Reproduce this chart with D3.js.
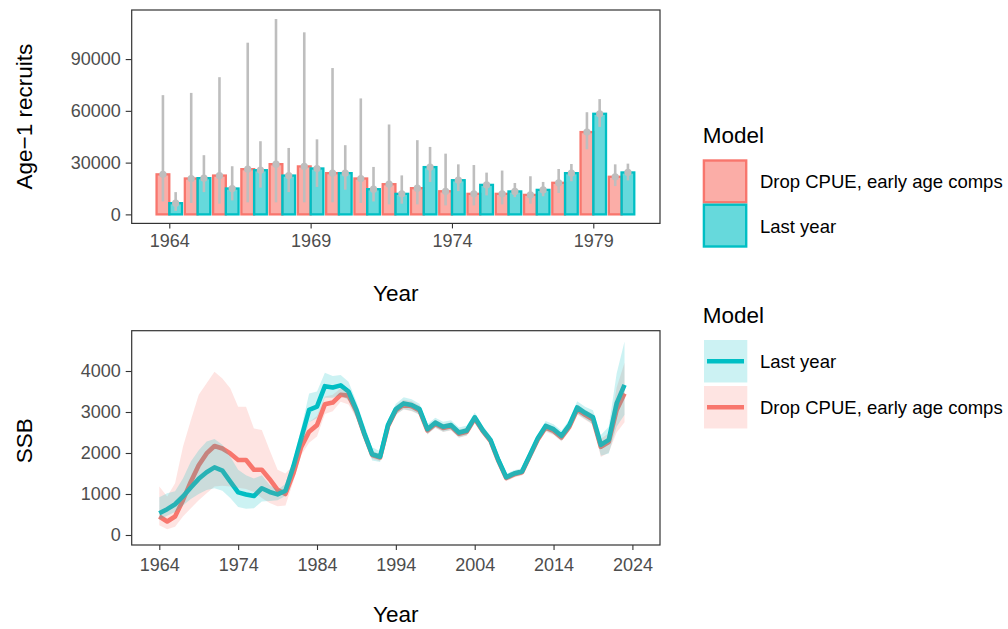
<!DOCTYPE html>
<html><head><meta charset="utf-8">
<script src="https://cdn.jsdelivr.net/npm/d3@7"></script>
<style>
body{margin:0;background:#fff}
svg{display:block}
text{font-family:"Liberation Sans",Arial,Helvetica,sans-serif}
</style>
</head><body>
<svg id="chart" width="1008" height="629"></svg>
<script>
// ---------------- DATA ----------------
const modelNames = ["Drop CPUE, early age comps", "Last year"];
const modelColors = ["#F8766D", "#00BFC4"];

const recYears = [1964,1965,1966,1967,1968,1969,1970,1971,1972,1973,1974,1975,1976,1977,1978,1979,1980];
const recDropEst   = [23200,20800,22500,26200,29100,27800,23900,20800,17500,15200,13400,11900,11900,11300,18300,47700,21800];
const recDropLo    = [7500,6600,6200,7000,7000,7000,7000,6600,5800,5800,5200,5200,5800,6200,12400,37700,16400];
const recDropHi    = [69100,70400,79500,99500,113200,105500,84800,67200,52100,43000,35200,28600,25400,22100,26300,59200,29000];
const recLastEst   = [6500,21000,15000,25600,22500,26600,23900,14600,11900,27400,19800,17100,13300,14200,23900,58300,24300];
const recLastLo    = [2000,12900,8100,15500,12900,15900,14300,7500,6200,18800,13500,11000,10000,10500,19200,50700,19700];
const recLastHi    = [12900,34300,27900,42400,38500,43500,40100,27500,22600,39100,29000,24200,18200,18800,29200,66800,29400];

const ssbYears = [1964,1965,1966,1967,1968,1969,1970,1971,1972,1973,1974,1975,1976,1977,1978,1979,1980,1981,1982,1983,1984,1985,1986,1987,1988,1989,1990,1991,1992,1993,1994,1995,1996,1997,1998,1999,2000,2001,2002,2003,2004,2005,2006,2007,2008,2009,2010,2011,2012,2013,2014,2015,2016,2017,2018,2019,2020,2021,2022,2023];
const ssbLast   = [530,630,750,940,1160,1370,1530,1650,1570,1300,1040,990,950,1140,1050,990,1080,1670,2360,3050,3130,3630,3600,3650,3500,3050,2480,1970,1910,2680,3070,3210,3170,3070,2580,2740,2640,2680,2500,2550,2870,2560,2320,1830,1410,1500,1550,1950,2360,2660,2580,2420,2680,3110,2980,2870,2200,2320,3210,3660];
const ssbLastHi = [920,1020,1070,1380,1790,2070,2280,2340,2200,1910,1590,1460,1380,1460,1220,1100,1250,1850,2600,3450,3500,3960,3880,3900,3740,3250,2680,2140,2040,2820,3200,3360,3310,3200,2700,2860,2760,2800,2620,2670,2990,2670,2420,1920,1490,1580,1630,2040,2460,2780,2700,2540,2810,3260,3130,3040,2440,2640,3940,4720];
const ssbLastLo = [380,470,560,720,880,1000,1100,1140,1080,900,680,640,650,820,830,850,950,1500,2130,2750,2850,3350,3350,3420,3280,2850,2300,1820,1780,2540,2940,3070,3030,2940,2460,2620,2520,2560,2380,2430,2750,2450,2220,1740,1330,1420,1470,1860,2260,2540,2460,2300,2550,2960,2830,2700,1930,1990,2640,2930];
const ssbDrop   = [450,330,450,850,1300,1700,1990,2170,2110,1990,1830,1830,1590,1590,1360,1100,1000,1500,2150,2520,2680,3190,3230,3420,3400,3020,2460,1950,1890,2650,3040,3180,3140,3040,2550,2710,2610,2650,2470,2520,2840,2540,2300,1810,1390,1480,1530,1930,2330,2620,2540,2380,2640,3060,2930,2820,2150,2270,3050,3450];
const ssbDropHi = [1180,940,1260,2150,2800,3420,3700,3980,3820,3580,3130,3130,2600,2560,2070,1590,1500,1700,2350,2750,2900,3380,3420,3580,3540,3150,2560,2040,1980,2760,3150,3300,3260,3150,2650,2810,2710,2750,2570,2620,2940,2630,2390,1890,1470,1560,1610,2010,2420,2720,2640,2480,2750,3180,3050,2950,2350,2480,3600,4200];
const ssbDropLo = [240,140,200,450,650,850,1020,1180,1200,1180,1150,1120,1050,900,780,700,720,1300,1950,2250,2400,2950,3020,3250,3180,2850,2360,1860,1800,2540,2930,3060,3020,2930,2450,2610,2510,2550,2370,2420,2740,2450,2210,1730,1310,1400,1450,1850,2240,2520,2440,2280,2530,2940,2810,2690,1900,2010,2500,2750];

const recYTicks = [0, 30000, 60000, 90000];
const recXTicks = [1964, 1969, 1974, 1979];
const ssbYTicks = [0, 1000, 2000, 3000, 4000];
const ssbXTicks = [1964, 1974, 1984, 1994, 2004, 2014, 2024];

// ---------------- LAYOUT ----------------
const svg = d3.select("#chart");
const P1 = {l:131.7, r:660, t:10, b:223.4};
const P2 = {l:131.7, r:660, t:330.7, b:545};
const tickCol = "#333333", labCol = "#4D4D4D";

const xTop = d3.scaleLinear().domain([1962.67, 1981.36]).range([P1.l, P1.r]);
const yTop = d3.scaleLinear().domain([-5225, 118440]).range([P1.b, P1.t]);
const xBot = d3.scaleLinear().domain([1960.5, 2027.5]).range([P2.l, P2.r]);
const yBot = d3.scaleLinear().domain([-244, 4983]).range([P2.b, P2.t]);

function styleAxis(g){
  g.select(".domain").remove();
  g.selectAll(".tick line").attr("stroke", tickCol).attr("stroke-width", 1.1);
  g.selectAll(".tick text").attr("fill", labCol).style("font-size","18px")
   .style("font-family",'"Liberation Sans",Arial,sans-serif');
}

// ---------------- TOP PANEL: recruits ----------------
const gTop = svg.append("g");
const recRows = recYears.map((y,i)=>({year:y,
  vals:[{m:0, est:recDropEst[i], lo:recDropLo[i], hi:recDropHi[i], a:-0.45, b:0},
        {m:1, est:recLastEst[i], lo:recLastLo[i], hi:recLastHi[i], a:0, b:0.45}]}));
recRows.forEach(r=>{
  r.vals.forEach(v=>{
    gTop.append("rect")
      .attr("x", xTop(r.year+v.a)).attr("width", xTop(r.year+v.b)-xTop(r.year+v.a))
      .attr("y", yTop(v.est)).attr("height", yTop(0)-yTop(v.est))
      .attr("fill", modelColors[v.m]).attr("fill-opacity", 0.6)
      .attr("stroke", modelColors[v.m]).attr("stroke-width", 2.3);
  });
});
recRows.forEach(r=>{
  r.vals.forEach(v=>{
    const cx = xTop(r.year + (v.a+v.b)/2);
    gTop.append("line").attr("x1",cx).attr("x2",cx)
      .attr("y1",yTop(v.lo)).attr("y2",yTop(v.hi))
      .attr("stroke","#BEBEBE").attr("stroke-width",2.6);
    gTop.append("circle").attr("cx",cx).attr("cy",yTop(v.est)).attr("r",3.6).attr("fill","#BEBEBE");
  });
});
gTop.append("rect").attr("x",P1.l).attr("y",P1.t).attr("width",P1.r-P1.l).attr("height",P1.b-P1.t)
  .attr("fill","none").attr("stroke",tickCol).attr("stroke-width",1.2);

svg.append("g").attr("transform",`translate(0,${P1.b})`)
  .call(d3.axisBottom(xTop).tickValues(recXTicks).tickFormat(d3.format("d")).tickSize(5).tickPadding(6))
  .call(styleAxis);
svg.append("g").attr("transform",`translate(${P1.l},0)`)
  .call(d3.axisLeft(yTop).tickValues(recYTicks).tickFormat(d3.format("d")).tickSize(6).tickPadding(5))
  .call(styleAxis);

svg.append("text").attr("x",(P1.l+P1.r)/2).attr("y",301).attr("text-anchor","middle")
  .style("font-size","22.5px").attr("fill","#000").text("Year");
svg.append("text").attr("transform",`translate(31.5,${(P1.t+P1.b)/2}) rotate(-90)`).attr("text-anchor","middle")
  .style("font-size","22.5px").attr("fill","#000").text("Age\u22121 recruits");

// top legend
svg.append("text").attr("x",702.7).attr("y",143.3).style("font-size","22.5px").text("Model");
[0,1].forEach((m,i)=>{
  const y0 = 160.5 + i*44.2;
  svg.append("rect").attr("x",703.9).attr("y",y0).attr("width",42.3).attr("height",41.8)
    .attr("fill",modelColors[m]).attr("fill-opacity",0.6)
    .attr("stroke",modelColors[m]).attr("stroke-width",2.4);
  svg.append("text").attr("x",760).attr("y",y0+27.8).style("font-size","18.5px").attr("fill","#000")
    .text(modelNames[m]);
});

// ---------------- BOTTOM PANEL: SSB ----------------
svg.append("clipPath").attr("id","clip2").append("rect")
  .attr("x",P2.l).attr("y",P2.t).attr("width",P2.r-P2.l).attr("height",P2.b-P2.t);
const gBot = svg.append("g").attr("clip-path","url(#clip2)");

const seriesDrop = ssbYears.map((y,i)=>({year:y, v:ssbDrop[i], lo:ssbDropLo[i], hi:ssbDropHi[i]}));
const seriesLast = ssbYears.map((y,i)=>({year:y, v:ssbLast[i], lo:ssbLastLo[i], hi:ssbLastHi[i]}));

const line = d3.line().x(d=>xBot(d.year)).y(d=>yBot(d.v));
const area = d3.area().x(d=>xBot(d.year)).y0(d=>yBot(d.lo)).y1(d=>yBot(d.hi));

gBot.append("path").datum(seriesDrop).attr("d",line).attr("fill","none")
  .attr("stroke",modelColors[0]).attr("stroke-width",4.6).attr("stroke-linejoin","round");
gBot.append("path").datum(seriesLast).attr("d",line).attr("fill","none")
  .attr("stroke",modelColors[1]).attr("stroke-width",4.6).attr("stroke-linejoin","round");
gBot.append("path").datum(seriesDrop).attr("d",area).attr("fill",modelColors[0]).attr("fill-opacity",0.2);
gBot.append("path").datum(seriesLast).attr("d",area).attr("fill",modelColors[1]).attr("fill-opacity",0.2);

svg.append("rect").attr("x",P2.l).attr("y",P2.t).attr("width",P2.r-P2.l).attr("height",P2.b-P2.t)
  .attr("fill","none").attr("stroke",tickCol).attr("stroke-width",1.2);

svg.append("g").attr("transform",`translate(0,${P2.b})`)
  .call(d3.axisBottom(xBot).tickValues(ssbXTicks).tickFormat(d3.format("d")).tickSize(5).tickPadding(8))
  .call(styleAxis);
svg.append("g").attr("transform",`translate(${P2.l},0)`)
  .call(d3.axisLeft(yBot).tickValues(ssbYTicks).tickFormat(d3.format("d")).tickSize(6).tickPadding(5))
  .call(styleAxis);

svg.append("text").attr("x",(P2.l+P2.r)/2).attr("y",622).attr("text-anchor","middle")
  .style("font-size","22.5px").attr("fill","#000").text("Year");
svg.append("text").attr("transform",`translate(31.5,${(P2.t+P2.b)/2 + 3}) rotate(-90)`).attr("text-anchor","middle")
  .style("font-size","22.5px").attr("fill","#000").text("SSB");

// bottom legend (Last year first)
svg.append("text").attr("x",702.7).attr("y",323.3).style("font-size","22.5px").text("Model");
[1,0].forEach((m,i)=>{
  const y0 = 340 + i*46;
  svg.append("rect").attr("x",704).attr("y",y0).attr("width",43.3).attr("height",42.5)
    .attr("fill",modelColors[m]).attr("fill-opacity",0.2);
  svg.append("line").attr("x1",707).attr("x2",744).attr("y1",y0+21.3).attr("y2",y0+21.3)
    .attr("stroke",modelColors[m]).attr("stroke-width",4.6);
  svg.append("text").attr("x",760).attr("y",y0+28).style("font-size","18.5px").attr("fill","#000")
    .text(modelNames[m]);
});
</script>
</body></html>
